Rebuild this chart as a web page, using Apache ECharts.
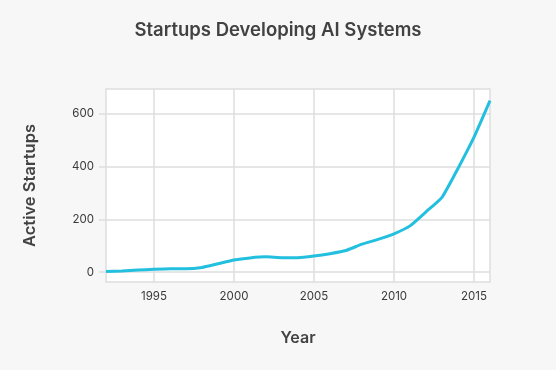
<!DOCTYPE html>
<html>
<head>
<meta charset="utf-8">
<script src="https://cdn.jsdelivr.net/npm/echarts@6/dist/echarts.min.js"></script>
<style>
html,body{margin:0;padding:0;background:#f7f7f7;}
#chart{width:556px;height:370px;}
</style>
</head>
<body>
<div id="chart"></div>
<script>
const years = [1992,1993,1994,1995,1996,1997,1998,1999,2000,2001,2002,2003,2004,2005,2006,2007,2008,2009,2010,2011,2012,2013,2014,2015,2016];
const startups = [3,5,8,11,13,13,18,32,46,54,58,55,55,61,70,82,106,124,145,175,228,283,392,510,648];
const xTicks = [1995,2000,2005,2010,2015];
const yTicks = [0,200,400,600];

const chart = echarts.init(document.getElementById('chart'), null, {renderer:'canvas'});
const font = 'Inter, "Noto Sans", sans-serif';
chart.setOption({
  backgroundColor:'#f7f7f7',
  animation:false,
  title:{
    text:'Startups Developing AI Systems',
    left:'center', top:16,
    textStyle:{fontFamily:font, fontSize:18.5, fontWeight:600, color:'#424242'}
  },
  grid:{left:106, right:66, top:89, bottom:88, show:true, backgroundColor:'#ffffff', borderColor:'#dedede', borderWidth:1.5},
  xAxis:{
    type:'value', min:1992, max:2016,
    name:'Year', nameLocation:'middle', nameGap:48,
    nameTextStyle:{fontFamily:font, fontSize:16, fontWeight:600, color:'#424242'},
    axisLine:{show:false},
    axisTick:{show:false, customValues:xTicks},
    axisLabel:{customValues:xTicks, fontFamily:font, fontSize:11.5, color:'#3a3a3a', margin:9, formatter:v=>String(v)},
    splitLine:{show:true, lineStyle:{color:'#dedede', width:1.5}}
  },
  yAxis:{
    type:'value', min:-37, max:692,
    name:'Active Startups', nameLocation:'middle', nameGap:67, nameRotate:90,
    nameTextStyle:{fontFamily:font, fontSize:16.5, fontWeight:600, color:'#424242'},
    axisLine:{show:false},
    axisTick:{show:true, customValues:yTicks, length:7, lineStyle:{color:'#dedede', width:1.5}},
    axisLabel:{customValues:yTicks, fontFamily:font, fontSize:11.5, color:'#3a3a3a', margin:12},
    splitLine:{show:true, lineStyle:{color:'#dedede', width:1.5}}
  },
  series:[{
    type:'line',
    data: years.map((y,i)=>[y, startups[i]]),
    showSymbol:false,
    smooth:0.15,
    lineStyle:{color:'#22bfdf', width:3},
    itemStyle:{color:'#22bfdf'}
  }]
});
</script>
</body>
</html>
